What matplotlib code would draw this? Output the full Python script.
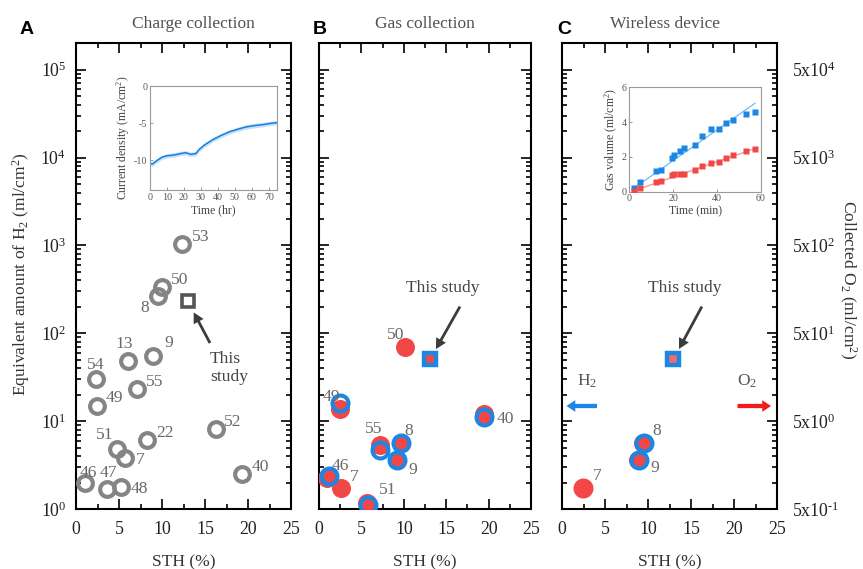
import numpy as np
import matplotlib
matplotlib.use("Agg")
import matplotlib.pyplot as plt
from matplotlib.ticker import (LogLocator, NullFormatter, MultipleLocator,
                               FixedLocator, NullLocator, LogFormatterSciNotation)

plt.rcParams.update({
    "font.family": ["Liberation Serif", "DejaVu Serif"],
    "mathtext.fontset": "custom",
    "mathtext.rm": "Liberation Serif",
    "mathtext.it": "Liberation Serif:italic",
    "mathtext.bf": "Liberation Serif:bold",
    "mathtext.default": "regular",
    "axes.unicode_minus": False,
})

# ---------------- data ----------------
# Panel A: charge collection (H2 equivalent, ml/cm2)
a_refs = ["53", "50", "8", "13", "9", "54", "49", "55", "51", "22", "7", "46", "47", "48", "52", "40"]
a_sth = [12.35, 10.0, 9.5, 6.1, 9.0, 2.3, 2.4, 7.1, 4.75, 8.25, 5.7, 1.1, 3.6, 5.25, 16.25, 19.35]
a_h2 = [1030, 335, 263, 48, 55, 30, 15, 23.5, 4.8, 6.1, 3.8, 2.0, 1.7, 1.8, 8.1, 2.5]
a_this_sth = [13.0]
a_this_h2 = [231]

# Panel B: gas collection
b_o2_refs = ["50", "49", "40", "55", "8", "9", "46", "7", "51"]
b_o2_sth = [10.1, 2.5, 19.5, 7.2, 9.7, 9.15, 1.0, 2.6, 5.7]
b_o2 = [35, 6.8, 6.1, 2.65, 2.8, 1.8, 1.12, 0.86, 0.59]
b_h2_refs = ["49", "40", "55", "8", "9", "46", "51"]
b_h2_sth = [2.5, 19.5, 7.2, 9.7, 9.15, 1.2, 5.75]
b_h2 = [15.9, 11.2, 4.7, 5.6, 3.6, 2.4, 1.11]
b_this_sth = [13.1]
b_this_h2 = [50.5]

# Panel C: wireless device
c_o2_refs = ["8", "9", "7"]
c_o2_sth = [9.4, 8.8, 2.4]
c_o2 = [2.8, 1.8, 0.86]
c_h2_refs = ["8", "9"]
c_h2_sth = [9.5, 8.9]
c_h2 = [5.6, 3.6]
c_this_sth = [12.95]
c_this_h2 = [50.5]

# Inset A: current density vs time
ia_time = [0, 1.4, 4.3, 7.3, 10.3, 14.2, 18, 21, 24, 27, 29, 32, 36.9, 41.8, 46.7,
           51.7, 56.6, 61.5, 66.5, 71.4, 75]
ia_j = [-10.44, -10.5, -10.0, -9.56, -9.38, -9.29, -9.1, -8.98, -9.2, -9.1, -8.53,
        -7.96, -7.24, -6.67, -6.18, -5.82, -5.51, -5.33, -5.2, -5.02, -4.93]
ia_spread = 0.3

# Inset C: gas volume vs time
ic_time = [2, 5, 12.4, 14.3, 19.4, 20.3, 23, 25, 30.2, 33.3, 37.2, 41, 44.2, 47.3, 53.5, 57.4]
ic_h2 = [0.21, 0.56, 1.18, 1.22, 1.91, 2.12, 2.32, 2.51, 2.7, 3.2, 3.61, 3.61, 3.96, 4.13, 4.48, 4.58]
ic_o2 = [0.06, 0.21, 0.54, 0.64, 0.95, 1.0, 1.04, 1.04, 1.25, 1.5, 1.66, 1.7, 1.95, 2.12, 2.33, 2.43]
ic_line_t = [2, 57.4]
ic_line_h2 = [0.2, 5.08]
ic_line_o2 = [0.05, 2.48]

x_ticks = [0, 5, 10, 15, 20, 25]
o2_ticks = [0.5, 5, 50, 500, 5000, 50000]
o2_labels = ["5x10$^{\u20101}$", "5x10$^{0}$", "5x10$^{1}$",
             "5x10$^{2}$", "5x10$^{3}$", "5x10$^{4}$"]

# ---------------- style ----------------
W, H = 863, 569
RED = "#f24747"
BLUE = "#1b86e3"
GRAY = "#858585"
LABC = "#6a6a6a"

fig = plt.figure(figsize=(W / 100, H / 100), dpi=100)


def box(l, t, r, b):
    return [l / W, 1 - b / H, (r - l) / W, (b - t) / H]


def ftext(x, y, s, **kw):
    return fig.text(x / W, 1 - y / H, s, **kw)


axA = fig.add_axes(box(76, 43.3, 291, 509))
axB = fig.add_axes(box(319, 43.3, 531, 509))
axC = fig.add_axes(box(562, 43.3, 777, 509))

for ax in (axA, axB, axC):
    ax.set_yscale("log")
    ax.set_xlim(0, 25)
    ax.set_xticks(x_ticks)
    ax.xaxis.set_minor_locator(MultipleLocator(2.5))
    ax.yaxis.set_major_locator(LogLocator(base=10, numticks=10))
    ax.yaxis.set_minor_locator(LogLocator(base=10, subs=np.arange(2, 10), numticks=20))
    ax.yaxis.set_minor_formatter(NullFormatter())
    ax.yaxis.set_major_formatter(LogFormatterSciNotation())
    ax.tick_params(which="both", direction="in", top=True, right=True, width=1.2,
                   labelsize=12.8, labelcolor="#222222")
    ax.tick_params(which="major", length=7.5)
    ax.tick_params(which="minor", length=3.8)
    ax.tick_params(axis="x", pad=9)
    ax.tick_params(axis="y", pad=7)
    for sp in ax.spines.values():
        sp.set_linewidth(1.5)
    ax.set_ylim(1, 2e5)

axB.tick_params(labelleft=False)
axC.tick_params(labelleft=False)

# ---- Panel A ----
axA.plot(a_sth, a_h2, "o", ms=10.6, mew=3.0, mec=GRAY, mfc="none", zorder=3)
axA.plot(a_this_sth, a_this_h2, "s", ms=8.4, mew=2.6, mec="#555555", mfc="white", zorder=4)
a_off = [(18, 7), (18, 7), (-13, -12), (-4, 17), (15, 13), (0, 14), (18, 8), (18, 7),
         (-12, 14), (18, 7), (15, -2), (3, 10), (1, 16), (18, -2), (17, 7), (18, 7)]
for r, x, y, (dx, dy) in zip(a_refs, a_sth, a_h2, a_off):
    axA.annotate(r, (x, y), xytext=(dx, dy), textcoords="offset pixels",
                 ha="center", va="center", fontsize=12.6, color=LABC, zorder=5)

# ---- Panel B ----
b_o2_eq = np.array(b_o2) * 2
axB.plot(b_o2_sth, b_o2_eq, "o", ms=13.7, mec="none", mfc=RED, zorder=3)
axB.plot(b_h2_sth, b_h2, "o", ms=11.5, mew=2.9, mec=BLUE, mfc="none", zorder=4)
axB.plot(b_this_sth, b_this_h2, "s", ms=8.8, mew=3.2, mec=BLUE, mfc=RED, zorder=5)
b_off = [(-9, 12), (-9, 12), (21, -5), (-6, 16), (7, 12), (16, -10), (13, 12), (13, 11), (20, 13)]
for r, x, y, (dx, dy) in zip(b_o2_refs, b_o2_sth, b_o2_eq, b_off):
    axB.annotate(r, (x, y), xytext=(dx, dy), textcoords="offset pixels",
                 ha="center", va="center", fontsize=12.6, color=LABC, zorder=6)

# ---- Panel C ----
c_o2_eq = np.array(c_o2) * 2
axC.plot(c_o2_sth[:2], c_o2_eq[:2], "o", ms=13.7, mec="none", mfc=RED, zorder=3)
axC.plot(c_o2_sth[2:], c_o2_eq[2:], "o", ms=14.4, mec="none", mfc=RED, zorder=3)
axC.plot(c_h2_sth, c_h2, "o", ms=11.5, mew=2.9, mec=BLUE, mfc="none", zorder=4)
axC.plot(c_this_sth, c_this_h2, "s", ms=8.8, mew=3.2, mec=BLUE, mfc="#f06c6c", zorder=5)
c_off = [(14, 12), (17, -8), (15, 12)]
for r, x, y, (dx, dy) in zip(c_o2_refs, c_o2_sth, c_o2_eq, c_off):
    axC.annotate(r, (x, y), xytext=(dx, dy), textcoords="offset pixels",
                 ha="center", va="center", fontsize=12.6, color=LABC, zorder=6)

axC2 = axC.twinx()
axC2.set_yscale("log")
axC2.set_ylim(0.5, 1e5)
axC2.yaxis.set_major_locator(FixedLocator(o2_ticks))
axC2.set_yticklabels(o2_labels)
axC2.yaxis.set_minor_locator(NullLocator())
axC2.tick_params(which="both", length=0, pad=11, labelsize=12.8, labelcolor="#222222")
for sp in axC2.spines.values():
    sp.set_visible(False)
axC.tick_params(which="both", right=True, labelright=False)

# ---- "This study" arrows ----
arrow_kw = dict(arrowstyle="simple,head_length=0.75,head_width=0.8,tail_width=0.2",
                mutation_scale=10, color="#3c3c3c", lw=0)
axA.annotate("", xy=(a_this_sth[0], a_this_h2[0]), xytext=(16, -30), textcoords="offset points",
             arrowprops=dict(shrinkA=0, shrinkB=9, **arrow_kw), zorder=6)
axB.annotate("", xy=(b_this_sth[0], b_this_h2[0]), xytext=(21.5, 38), textcoords="offset points",
             arrowprops=dict(shrinkA=0, shrinkB=8.5, **arrow_kw), zorder=6)
axC.annotate("", xy=(c_this_sth[0], c_this_h2[0]), xytext=(20.5, 38), textcoords="offset points",
             arrowprops=dict(shrinkA=0, shrinkB=8.5, **arrow_kw), zorder=6)

ftext(210, 368, "This\nstudy", ha="left", va="center", fontsize=12.6, color="#444444",
      linespacing=1.2)
ftext(443, 288, "This study", ha="center", va="center", fontsize=12.6, color="#444444")
ftext(685, 288, "This study", ha="center", va="center", fontsize=12.6, color="#444444")

# ---- H2 / O2 arrows ----
big_arrow = "simple,head_length=0.45,head_width=0.6,tail_width=0.22"
axC.annotate("", xy=(566.5 / W, 1 - 406 / H), xycoords="figure fraction",
             xytext=(597 / W, 1 - 406 / H), textcoords="figure fraction",
             arrowprops=dict(arrowstyle=big_arrow, mutation_scale=14, color=BLUE, lw=0,
                             shrinkA=0, shrinkB=0))
axC.annotate("", xy=(771 / W, 1 - 406 / H), xycoords="figure fraction",
             xytext=(737.5 / W, 1 - 406 / H), textcoords="figure fraction",
             arrowprops=dict(arrowstyle=big_arrow, mutation_scale=14, color="#ee1c1c", lw=0,
                             shrinkA=0, shrinkB=0))
ftext(587, 381, r"H$_2$", ha="center", va="center", fontsize=12.6, color="#555555")
ftext(747, 381, r"O$_2$", ha="center", va="center", fontsize=12.6, color="#555555")

# ---- Titles, letters, axis labels ----
ftext(193, 28, "Charge collection", ha="center", va="baseline", fontsize=12.5, color="#505050")
ftext(425, 28, "Gas collection", ha="center", va="baseline", fontsize=12.5, color="#505050")
ftext(665, 28, "Wireless device", ha="center", va="baseline", fontsize=12.5, color="#505050")
for xl, s in ((20, "A"), (313, "B"), (557, "C")):
    ftext(xl, 34, s, ha="left", va="baseline", fontsize=14, fontweight="bold",
          family="Liberation Sans", color="black")
for xc in (183.5, 425, 669.5):
    ftext(xc, 566.5, "STH (%)", ha="center", va="baseline", fontsize=12.5, color="#333333")
ftext(21.5, 274, r"Equivalent amount of H$_2$ (ml/cm$^2$)", ha="center", va="center",
      rotation=90, fontsize=12.6, color="#333333")
ftext(848, 280, r"Collected O$_2$ (ml/cm$^2$)", ha="center", va="center",
      rotation=270, fontsize=12.6, color="#333333")

# ---- Inset A ----
insA = fig.add_axes(box(150, 86, 277.3, 190))
tA = np.array(ia_time)
jA = np.array(ia_j)
insA.fill_between(tA, jA - ia_spread, jA + ia_spread, color="#9fd0f5", alpha=0.6, lw=0)
insA.plot(tA, jA, color="#1a7fdc", lw=1.1)
insA.set_xlim(0, 75)
insA.set_ylim(-14, 0)
insA.set_xticks([0, 10, 20, 30, 40, 50, 60, 70])
insA.set_yticks([0, -5, -10])
insA.set_xlabel("Time (hr)", fontsize=8.5, color="#444444", labelpad=1.5)
insA.set_ylabel(r"Current density (mA/cm$^2$)", fontsize=8.5, color="#444444", labelpad=1)

# ---- Inset C ----
insC = fig.add_axes(box(629.3, 87.3, 760.7, 191.7))
insC.plot(ic_line_t, ic_line_h2, color="#6bbcf5", lw=0.9, zorder=2)
insC.plot(ic_line_t, ic_line_o2, color="#f59090", lw=0.9, zorder=2)
insC.plot(ic_time, ic_h2, "s", ms=4.2, color=BLUE, mec="none", zorder=3)
insC.plot(ic_time, ic_o2, "s", ms=4.2, color=RED, mec="none", zorder=3)
insC.set_xlim(0, 60)
insC.set_ylim(0, 6)
insC.set_xticks([0, 20, 40, 60])
insC.set_yticks([0, 2, 4, 6])
insC.set_xlabel("Time (min)", fontsize=8.5, color="#444444", labelpad=1.5)
insC.set_ylabel(r"Gas volume (ml/cm$^2$)", fontsize=8.5, color="#444444", labelpad=1)

for ins in (insA, insC):
    ins.tick_params(direction="in", length=2, width=0.6, color="#888888",
                    labelsize=7.2, labelcolor="#555555", pad=2)
    for sp in ins.spines.values():
        sp.set_color("#9a9a9a")
        sp.set_linewidth(0.8)

fig.savefig("out.png", dpi=100)
